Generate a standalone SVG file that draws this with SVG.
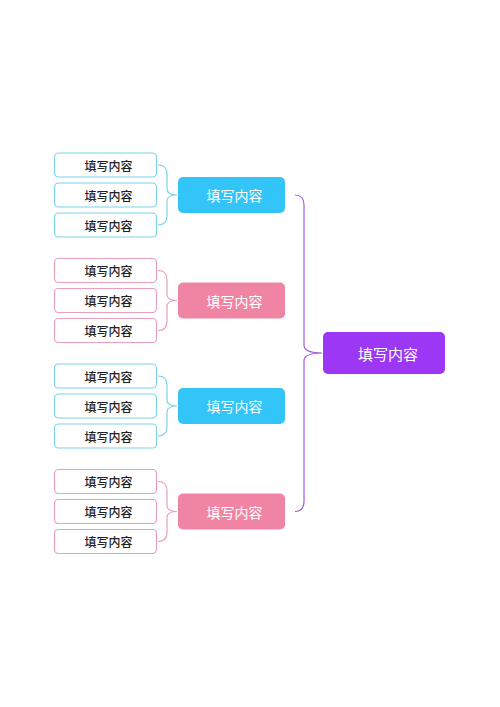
<svg xmlns="http://www.w3.org/2000/svg" width="500" height="707" viewBox="0 0 500 707">
<style>
.leafB{fill:#fff;stroke:#7dd3ea;stroke-width:1.2}
.leafP{fill:#fff;stroke:#eaa0b8;stroke-width:1.2}
.lt{font-family:"Noto Sans CJK SC","Noto Sans",sans-serif;font-size:12px;font-weight:500;fill:#222;text-anchor:middle;dominant-baseline:central}
.mt{font-family:"Noto Sans CJK SC","Noto Sans",sans-serif;font-size:14px;fill:#fff;text-anchor:middle;dominant-baseline:central}
.rt{font-family:"Noto Sans CJK SC","Noto Sans",sans-serif;font-size:15px;fill:#fff;text-anchor:middle;dominant-baseline:central}
.cB{fill:none;stroke:#7dd3ea;stroke-width:1.2}
.cP{fill:none;stroke:#eaa0b8;stroke-width:1.2}
.cR{fill:none;stroke:#a45ae0;stroke-width:1.2}
</style>
<g id="connectors">
<path class="cB" d="M158,165 Q167,165 167,174 L167,189 Q167,195 177,195 Q167,195 167,201 L167,216 Q167,225 158,225"/>
<path class="cP" d="M158,270.5 Q167,270.5 167,279.5 L167,294.5 Q167,300.5 177,300.5 Q167,300.5 167,306.5 L167,321.5 Q167,330.5 158,330.5"/>
<path class="cB" d="M158,376 Q167,376 167,385 L167,400 Q167,406 177,406 Q167,406 167,412 L167,427 Q167,436 158,436"/>
<path class="cP" d="M158,481.5 Q167,481.5 167,490.5 L167,505.5 Q167,511.5 177,511.5 Q167,511.5 167,517.5 L167,532.5 Q167,541.5 158,541.5"/>
<path class="cR" d="M295,195 Q304,195 304,205 L304,345 Q304,353 322,353 Q304,353 304,361 L304,501 Q304,511.5 295,511.5"/>
</g>
<g id="root">
<rect x="323" y="332" width="122" height="42" rx="5" fill="#9b37f5"/>
<text class="rt" x="388" y="353">填写内容</text>
</g>
<g id="mid1">
<rect x="178" y="177" width="107" height="36" rx="5" fill="#33c4f8"/>
<text class="mt" x="234.5" y="195">填写内容</text>
</g>
<g id="mid2">
<rect x="178" y="282.5" width="107" height="36" rx="5" fill="#f085a3"/>
<text class="mt" x="234.5" y="300.5">填写内容</text>
</g>
<g id="mid3">
<rect x="178" y="388" width="107" height="36" rx="5" fill="#33c4f8"/>
<text class="mt" x="234.5" y="406">填写内容</text>
</g>
<g id="mid4">
<rect x="178" y="493.5" width="107" height="36" rx="5" fill="#f085a3"/>
<text class="mt" x="234.5" y="511.5">填写内容</text>
</g>
<g id="leaf1a"><rect class="leafB" x="54.5" y="153" width="102" height="24" rx="4"/><text class="lt" x="108.5" y="165">填写内容</text></g>
<g id="leaf1b"><rect class="leafB" x="54.5" y="183" width="102" height="24" rx="4"/><text class="lt" x="108.5" y="195">填写内容</text></g>
<g id="leaf1c"><rect class="leafB" x="54.5" y="213" width="102" height="24" rx="4"/><text class="lt" x="108.5" y="225">填写内容</text></g>
<g id="leaf2a"><rect class="leafP" x="54.5" y="258.5" width="102" height="24" rx="4"/><text class="lt" x="108.5" y="270.5">填写内容</text></g>
<g id="leaf2b"><rect class="leafP" x="54.5" y="288.5" width="102" height="24" rx="4"/><text class="lt" x="108.5" y="300.5">填写内容</text></g>
<g id="leaf2c"><rect class="leafP" x="54.5" y="318.5" width="102" height="24" rx="4"/><text class="lt" x="108.5" y="330.5">填写内容</text></g>
<g id="leaf3a"><rect class="leafB" x="54.5" y="364" width="102" height="24" rx="4"/><text class="lt" x="108.5" y="376">填写内容</text></g>
<g id="leaf3b"><rect class="leafB" x="54.5" y="394" width="102" height="24" rx="4"/><text class="lt" x="108.5" y="406">填写内容</text></g>
<g id="leaf3c"><rect class="leafB" x="54.5" y="424" width="102" height="24" rx="4"/><text class="lt" x="108.5" y="436">填写内容</text></g>
<g id="leaf4a"><rect class="leafP" x="54.5" y="469.5" width="102" height="24" rx="4"/><text class="lt" x="108.5" y="481.5">填写内容</text></g>
<g id="leaf4b"><rect class="leafP" x="54.5" y="499.5" width="102" height="24" rx="4"/><text class="lt" x="108.5" y="511.5">填写内容</text></g>
<g id="leaf4c"><rect class="leafP" x="54.5" y="529.5" width="102" height="24" rx="4"/><text class="lt" x="108.5" y="541.5">填写内容</text></g>
</svg>
